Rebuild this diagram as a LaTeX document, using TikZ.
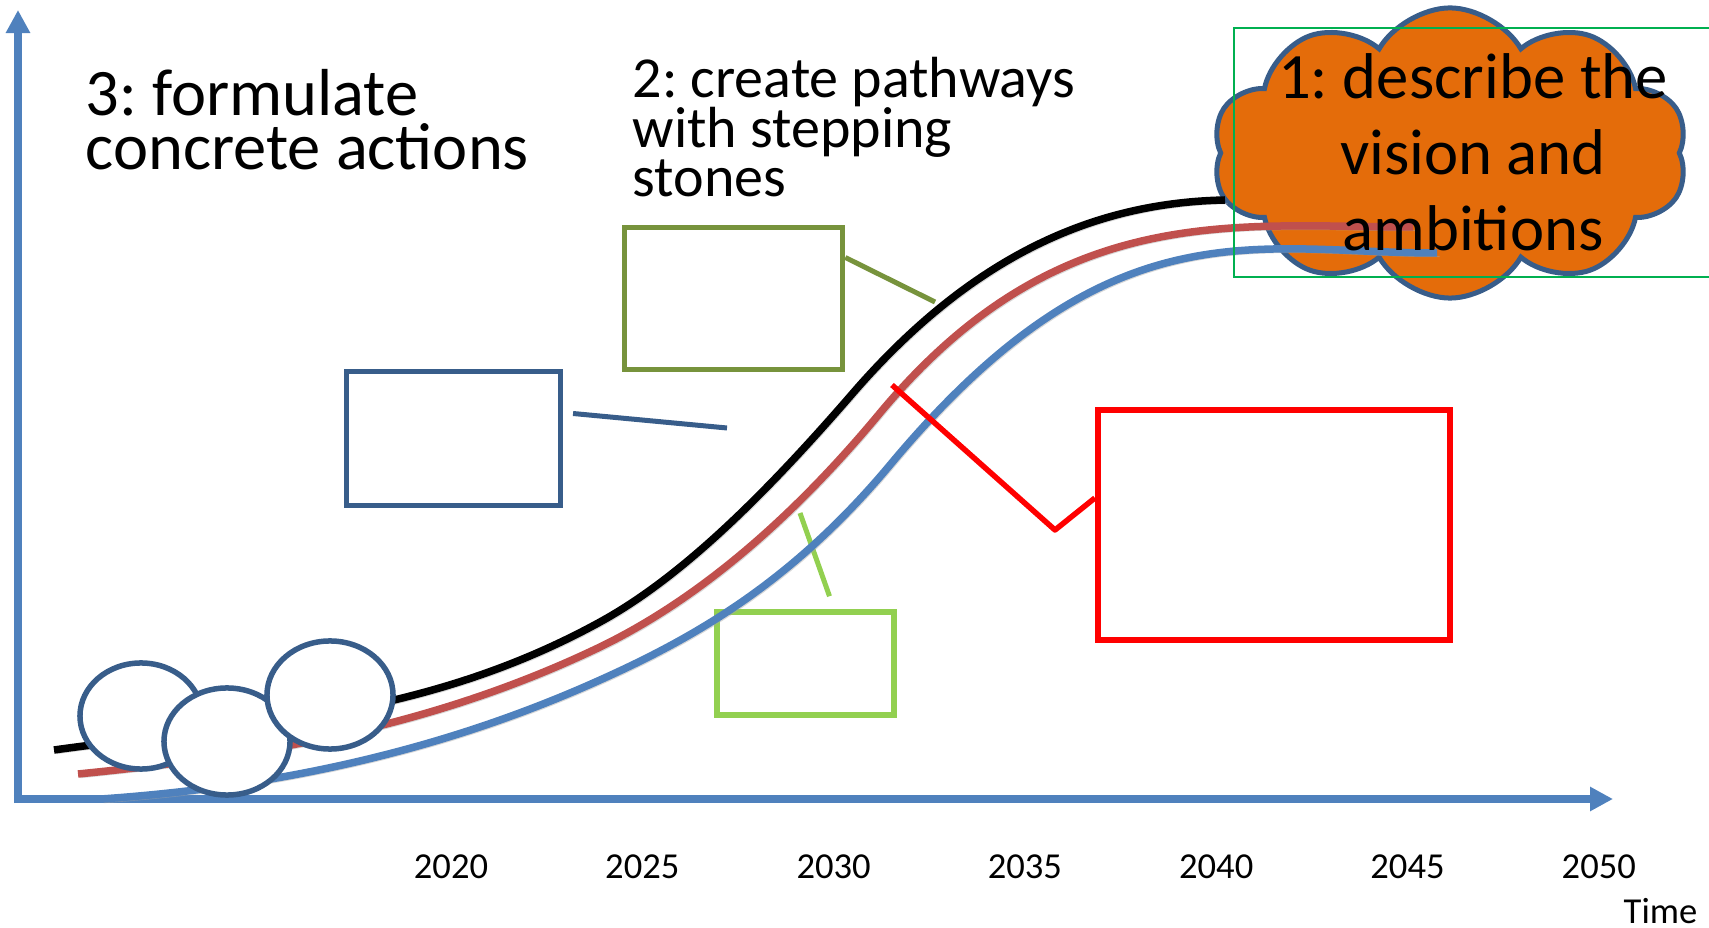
\documentclass[tikz,border=0pt]{standalone}
\usepackage{fontspec}
\setmainfont{Carlito}
\frenchspacing
\usepackage{tikz}
\usetikzlibrary{positioning, calc, shapes.geometric, shapes.symbols, arrows.meta}
\definecolor{axisblue}{HTML}{4F81BD}
\definecolor{darkblue}{HTML}{385D8A}
\definecolor{curvered}{HTML}{C0504D}
\definecolor{olive}{HTML}{77933C}
\definecolor{lightgreen}{HTML}{92D050}
\definecolor{cloudorange}{HTML}{E46C0A}
\definecolor{textgreen}{HTML}{00B050}

\begin{document}
\begin{tikzpicture}[x=0.01cm, y=-0.01cm,
        axisline/.style={draw=axisblue, line width=0.07cm, -{Triangle[length=0.23cm,width=0.23cm]}},
        stepbox/.style={draw=#1, line width=0.055cm, inner sep=0pt},
        stone/.style={ellipse, draw=darkblue, fill=white, line width=0.055cm, inner sep=0pt},
        curve/.style={line width=0.075cm, preaction={draw=black!35, opacity=.45, transform canvas={shift={(0.025cm,-0.035cm)}}}},
        yearlabel/.style={anchor=base, inner sep=0pt, font=\fontsize{10.4pt}{12pt}\selectfont}]
        \useasboundingbox (0,0) rectangle (1709,928);

        % axes
        \coordinate (origin) at (18,799);
        \coordinate (ytip) at (18,10);
        \coordinate (xtip) at (1613,799);
        \draw[axisline] ([yshift=-0.04cm]origin) -- (ytip);
        \draw[axisline] ([xshift=-0.04cm]origin) -- (xtip);

        % vision
        \node[cloud, cloud puffs=10, cloud puff arc=120, aspect=1.64, draw=darkblue, fill=cloudorange,
              line width=0.05cm, minimum width=4.75cm, minimum height=2.9cm] (vision) at (1450,153) {};

        % stepping stones
        \node[stepbox=darkblue, minimum width=2.135cm, minimum height=1.335cm] (actbox) at (453.5,438.5) {};
        \node[stepbox=olive, minimum width=2.18cm, minimum height=1.42cm] (stepbox1) at (733.5,298.5) {};
        \node[stepbox=lightgreen, minimum width=1.77cm, minimum height=1.03cm] (stepbox2) at (805.5,663.5) {};
        \coordinate (acttip) at (727,428);
        \coordinate (step1tip) at (935,302);
        \coordinate (step2tip) at (800,513);
        \draw[darkblue, line width=0.05cm] ([shift={(10,-25)}]actbox.east) -- (acttip);
        \draw[olive, line width=0.05cm] ([shift={(0,-41)}]stepbox1.east) -- (step1tip);
        \draw[lightgreen, line width=0.05cm] ([shift={(24,-13)}]stepbox2.north) -- (step2tip);

        % pathways
        \draw[curve, black] (54,750) .. controls (236,724.5) and (418,722) .. (600,622)
            .. controls (684,576) and (769,490) .. (853,393)
            .. controls (977,250) and (1101,202.5) .. (1225,200);
        \draw[curve, curvered] (78,774) .. controls (252,756.6) and (426,730.5) .. (600,647)
            .. controls (693,602) and (787,525) .. (880,413)
            .. controls (1058,199.4) and (1235,227) .. (1413,227);
        \draw[curve, axisblue] (101,799) .. controls (267,787.4) and (434,754.7) .. (600,680)
            .. controls (697,636.5) and (793,581) .. (890,465)
            .. controls (1110,201) and (1255,253) .. (1437,253);

        \node[stepbox=red, line width=0.06cm, minimum width=3.52cm, minimum height=2.3cm] (redbox) at (1274,525) {};
        \coordinate (redknee) at (1055,530);
        \coordinate (redtip) at (892,385);
        \draw[red, line width=0.055cm, line join=round] ([yshift=0.27cm]redbox.west) -- (redknee) -- (redtip);

        % stones at the start
        \node[stone, minimum width=1.22cm, minimum height=1.06cm] (stone1) at (141,716) {};
        \node[stone, minimum width=1.26cm, minimum height=1.07cm] (stone2) at (227,741.5) {};
        \node[stone, minimum width=1.26cm, minimum height=1.08cm] (stone3) at (330,695) {};

        % texts
        \node[anchor=base west, align=left, inner sep=0pt, font=\fontsize{18.9pt}{15.6pt}\selectfont] (actions) at (85,170)
            {3: formulate\\concrete actions};
        \node[anchor=base west, align=left, inner sep=0pt, font=\fontsize{16.5pt}{14.2pt}\selectfont] (pathways) at (632,197)
            {2: create pathways\\with stepping\\stones};
        \node[draw=textgreen, line width=0.015cm, inner sep=0pt, minimum width=4.78cm, minimum height=2.49cm,
              align=center, font=\fontsize{18.4pt}{21.6pt}\selectfont] (visiontext) at (1473,152.5)
            {1: describe the\\vision and\\ambitions};

        \foreach \yr [count=\i from 0] in {2020,2025,2030,2035,2040,2045,2050}
            \node[yearlabel] (year\yr) at ({451+191.3*\i},878) {\yr};
        \node[yearlabel, anchor=base west] (time) at (1623,923) {Time};
    \end{tikzpicture}
\end{document}
